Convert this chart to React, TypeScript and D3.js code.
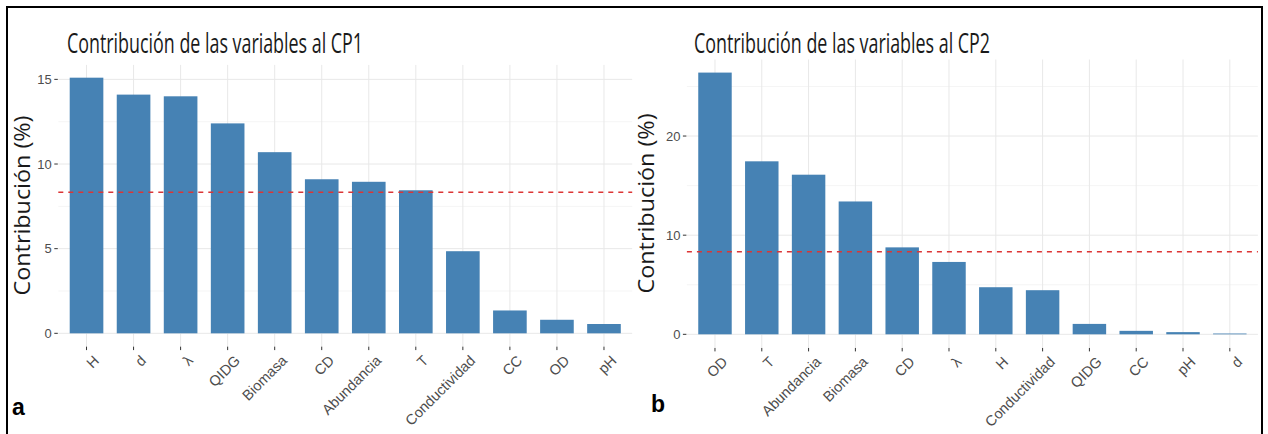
import React from "react";
import * as d3 from "d3";

const cp1Categories = ["H", "d", "λ", "QIDG", "Biomasa", "CD", "Abundancia", "T", "Conductividad", "CC", "OD", "pH"];
const cp1Values = [15.1, 14.1, 14.0, 12.4, 10.7, 9.1, 8.95, 8.45, 4.85, 1.35, 0.8, 0.55];
const cp1YTicks = [0, 5, 10, 15];
const cp1YMinor = [2.5, 7.5, 12.5];

const cp2Categories = ["OD", "T", "Abundancia", "Biomasa", "CD", "λ", "H", "Conductividad", "QIDG", "CC", "pH", "d"];
const cp2Values = [26.4, 17.45, 16.1, 13.4, 8.77, 7.3, 4.75, 4.45, 1.05, 0.35, 0.22, 0.08];
const cp2YTicks = [0, 10, 20];
const cp2YMinor = [5, 15, 25];

const expectedContribution = 100 / 12;

const BAR = "#4682B4";
const TICK_TEXT = "#4D4D4D";
const TICK_LINE = "#333333";

type PanelProps = {
  title: string;
  letter: string;
  categories: string[];
  values: number[];
  yTicks: number[];
  yMinor: number[];
  left: number;
  right: number;
  top: number;
  bottom: number;
  titleX: number;
  yTitleX: number;
  letterX: number;
  letterY: number;
};

function Panel(p: PanelProps) {
  const max = d3.max(p.values) as number;
  const y = d3.scaleLinear().domain([-0.05 * max, 1.05 * max]).range([p.bottom, p.top]);
  const x = d3
    .scaleBand<string>()
    .domain(p.categories.map((_, i) => String(i)))
    .range([p.left, p.right])
    .paddingInner(0.285)
    .paddingOuter(0.2425);
  const bw = x.bandwidth();
  const cx = (i: number) => (x(String(i)) as number) + bw / 2;
  const midY = (p.top + p.bottom) / 2;

  return (
    <g>
      {p.yMinor.map((t) => (
        <line key={"mn" + t} x1={p.left} x2={p.right} y1={y(t)} y2={y(t)} stroke="#F2F2F2" strokeWidth={0.8} />
      ))}
      {p.yTicks.map((t) => (
        <line key={"mj" + t} x1={p.left} x2={p.right} y1={y(t)} y2={y(t)} stroke="#E8E8E8" strokeWidth={1} />
      ))}
      {p.categories.map((_, i) => (
        <line key={"vg" + i} x1={cx(i)} x2={cx(i)} y1={p.top} y2={p.bottom} stroke="#E8E8E8" strokeWidth={1} />
      ))}
      {p.values.map((v, i) => (
        <rect key={"b" + i} x={x(String(i))} y={y(v)} width={bw} height={y(0) - y(v)} fill={BAR} />
      ))}
      <line
        x1={p.left}
        x2={p.right}
        y1={y(expectedContribution)}
        y2={y(expectedContribution)}
        stroke="#DC3535"
        strokeWidth={1.6}
        strokeDasharray="5,5"
      />
      {p.yTicks.map((t) => (
        <g key={"yt" + t}>
          <line x1={p.left - 4} x2={p.left - 0.5} y1={y(t)} y2={y(t)} stroke={TICK_LINE} strokeWidth={1} />
          <text
            x={p.left - 6.5}
            y={y(t)}
            dy="0.35em"
            textAnchor="end"
            fontFamily="'Liberation Sans', Arial, sans-serif"
            fontSize={13}
            fill={TICK_TEXT}
          >
            {t}
          </text>
        </g>
      ))}
      {p.categories.map((c, i) => (
        <g key={"xt" + i}>
          <line x1={cx(i)} x2={cx(i)} y1={p.bottom + 0.5} y2={p.bottom + 4} stroke={TICK_LINE} strokeWidth={1} />
          <text
            transform={`translate(${cx(i) + 6},${p.bottom + 8}) rotate(-45)`}
            textAnchor="end"
            dy="0.72em"
            fontFamily="'Liberation Sans', Arial, sans-serif"
            fontSize={14.5}
            fill={TICK_TEXT}
          >
            {c}
          </text>
        </g>
      ))}
      <text
        transform={`translate(${p.yTitleX},${midY}) rotate(-90)`}
        textAnchor="middle"
        dy="0.35em"
        fontFamily="'Open Sans', 'Noto Sans', sans-serif"
        fontSize={22}
        fill="#1a1a1a"
        textLength={180}
        lengthAdjust="spacingAndGlyphs"
      >
        Contribución (%)
      </text>
      <text
        x={p.titleX}
        y={53}
        fontFamily="'Open Sans', 'Noto Sans', sans-serif"
        fontSize={28}
        fill="#1a1a1a"
        textLength={296}
        lengthAdjust="spacingAndGlyphs"
      >
        {p.title}
      </text>
      <text
        x={p.letterX}
        y={p.letterY}
        fontFamily="'Liberation Sans', Arial, sans-serif"
        fontWeight="bold"
        fontSize={23}
        fill="#000"
      >
        {p.letter}
      </text>
    </g>
  );
}

export default function App() {
  return (
    <svg
      width={1268}
      height={434}
      style={{ position: "absolute", left: 0, top: 0, background: "#fff" }}
    >
      <rect x={0} y={0} width={1268} height={434} fill="#fff" />
      <Panel
        title="Contribución de las variables al CP1"
        letter="a"
        categories={cp1Categories}
        values={cp1Values}
        yTicks={cp1YTicks}
        yMinor={cp1YMinor}
        left={58.3}
        right={632.2}
        top={64.9}
        bottom={346.1}
        titleX={67}
        yTitleX={22}
        letterX={12}
        letterY={415}
      />
      <Panel
        title="Contribución de las variables al CP2"
        letter="b"
        categories={cp2Categories}
        values={cp2Values}
        yTicks={cp2YTicks}
        yMinor={cp2YMinor}
        left={686.9}
        right={1257.9}
        top={59.5}
        bottom={347.4}
        titleX={694}
        yTitleX={646}
        letterX={651}
        letterY={412}
      />
      <path d="M7,440 L7,7 L1262,7 L1262,440" fill="none" stroke="#000" strokeWidth={2} />
    </svg>
  );
}
